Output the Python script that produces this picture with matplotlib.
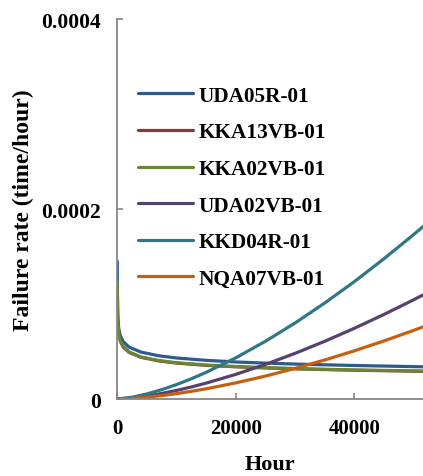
import matplotlib

matplotlib.use("Agg")
import matplotlib.pyplot as plt

plt.rcParams["font.family"] = ["Liberation Serif", "DejaVu Serif"]
plt.rcParams["font.weight"] = "bold"

# decreasing (early-failure) series, sampled densely near zero
hours_dec = [3, 10, 50, 100, 250, 500, 1000, 2000, 4000, 7000, 10000, 15000,
             20000, 25000, 30000, 35000, 40000, 45000, 50000, 52000]
uda05r = [1.45e-4, 1.184e-4, 9.36e-5, 8.46e-5, 7.40e-5, 6.69e-5, 6.04e-5, 5.46e-5,
          4.94e-5, 4.55e-5, 4.32e-5, 4.07e-5, 3.90e-5, 3.78e-5, 3.68e-5, 3.60e-5,
          3.53e-5, 3.47e-5, 3.41e-5, 3.39e-5]
kka13vb = [1.21e-4, 1.142e-4, 8.84e-5, 7.91e-5, 6.83e-5, 6.11e-5, 5.47e-5, 4.90e-5,
           4.39e-5, 4.01e-5, 3.78e-5, 3.54e-5, 3.39e-5, 3.27e-5, 3.18e-5, 3.10e-5,
           3.03e-5, 2.98e-5, 2.93e-5, 2.91e-5]
kka02vb = [1.225e-4, 1.154e-4, 8.93e-5, 7.99e-5, 6.90e-5, 6.17e-5, 5.53e-5, 4.95e-5,
           4.43e-5, 4.05e-5, 3.82e-5, 3.58e-5, 3.42e-5, 3.30e-5, 3.21e-5, 3.13e-5,
           3.06e-5, 3.01e-5, 2.96e-5, 2.94e-5]

# increasing (wear-out) series
hours_inc = [0, 2500, 5000, 7500, 10000, 12500, 15000, 20000, 25000, 30000,
             35000, 40000, 45000, 50000, 52000]
uda02vb = [0, 1.10e-6, 3.15e-6, 5.84e-6, 9.05e-6, 1.27e-5, 1.675e-5, 2.594e-5,
           3.641e-5, 4.805e-5, 6.073e-5, 7.44e-5, 8.90e-5, 1.044e-4, 1.108e-4]
kkd04r = [0, 1.88e-6, 5.35e-6, 9.86e-6, 1.523e-5, 2.133e-5, 2.809e-5, 4.337e-5,
          6.075e-5, 8.00e-5, 1.010e-4, 1.235e-4, 1.476e-4, 1.730e-4, 1.836e-4]
nqa07vb = [0, 6.4e-7, 1.90e-6, 3.60e-6, 5.68e-6, 8.08e-6, 1.077e-5, 1.697e-5,
           2.414e-5, 3.22e-5, 4.109e-5, 5.07e-5, 6.11e-5, 7.22e-5, 7.68e-5]

x_ticks = [0, 20000, 40000]
y_ticks = [0, 0.0002, 0.0004]
y_tick_labels = ["0", "0.0002", "0.0004"]

series = [
    ("UDA05R-01", hours_dec, uda05r, "#2c5b8c"),
    ("KKA13VB-01", hours_dec, kka13vb, "#8c3836"),
    ("KKA02VB-01", hours_dec, kka02vb, "#6a8535"),
    ("UDA02VB-01", hours_inc, uda02vb, "#57416f"),
    ("KKD04R-01", hours_inc, kkd04r, "#2f7787"),
    ("NQA07VB-01", hours_inc, nqa07vb, "#c4600f"),
]

fig = plt.figure(figsize=(4.23, 4.77), dpi=100)
ax = fig.add_axes([0.2773, 0.1614, 0.7227, 0.7966])

for name, xs, ys, color in series:
    ax.plot(xs, ys, color=color, lw=2.3, label=name, solid_capstyle="round")

ax.set_xlim(0, 51600)
ax.set_ylim(0, 0.0004)
ax.set_xticks(x_ticks)
ax.set_xticklabels([str(v) for v in x_ticks])
ax.set_yticks(y_ticks)
ax.set_yticklabels(y_tick_labels)

for side in ("top", "right"):
    ax.spines[side].set_visible(False)
for side in ("left", "bottom"):
    ax.spines[side].set_color("#868686")
    ax.spines[side].set_linewidth(1.3)

ax.tick_params(axis="both", direction="in", length=4, width=1.2, color="#868686",
               labelsize=15)
ax.tick_params(axis="y", pad=12, labelsize=15.5)
ax.tick_params(axis="x", pad=14)

ax.set_xlabel("Hour", fontsize=16, fontweight="bold", labelpad=11)
ax.set_ylabel("Failure rate (time/hour)", fontsize=17, fontweight="bold", labelpad=5)

ax.legend(loc="upper left", bbox_to_anchor=(0.327, 0.818), bbox_transform=fig.transFigure,
          frameon=False, fontsize=15.3, handlelength=2.55, handletextpad=0.3,
          labelspacing=0.78, borderpad=0, borderaxespad=0)

fig.savefig("out.png", dpi=100)
